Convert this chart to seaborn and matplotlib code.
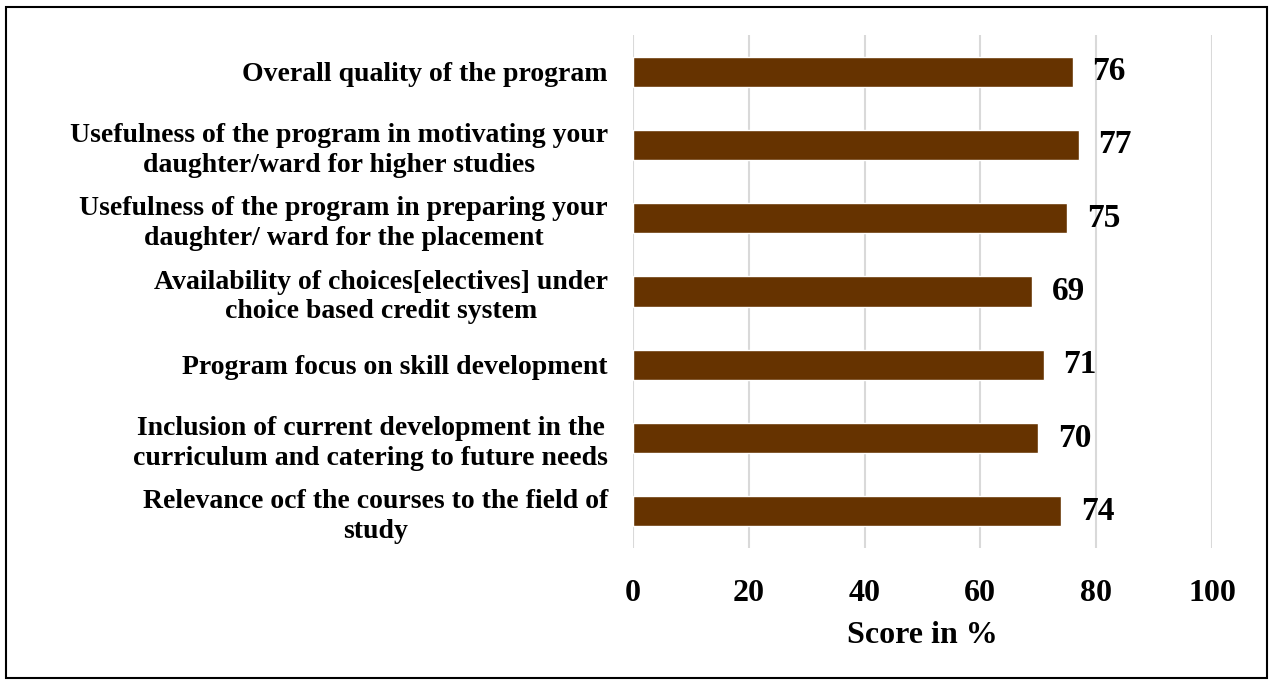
import matplotlib as mpl
mpl.use('Agg')

import matplotlib.pyplot as plt
import pandas as pd
import seaborn as sns
from matplotlib.patches import Rectangle

categories = ["Overall quality of the program",
              "Usefulness of the program in motivating your\ndaughter/ward for higher studies",
              "Usefulness of the program in preparing your\ndaughter/ ward for the placement",
              "Availability of choices[electives] under\nchoice based credit system",
              "Program focus on skill development",
              "Inclusion of current development in the\ncurriculum and catering to future needs",
              "Relevance ocf the courses to the field of\nstudy"]
scores = [76, 77, 75, 69, 71, 70, 74]
x_ticks = [0, 20, 40, 60, 80, 100]

bar_color = '#663300'

df = pd.DataFrame({'Category': categories, 'Score': scores})

sns.set_style("white")
plt.rcParams['font.family'] = ['Liberation Serif', 'DejaVu Serif']
plt.rcParams['font.weight'] = 'bold'
plt.rcParams['text.color'] = 'black'
plt.rcParams['xtick.color'] = 'black'
plt.rcParams['ytick.color'] = 'black'
plt.rcParams['axes.labelcolor'] = 'black'

fig = plt.figure(figsize=(12.7, 6.8), dpi=100)
ax = fig.add_axes([0.4984, 0.1941, 0.4559, 0.7544])

sns.barplot(data=df, x='Score', y='Category', orient='h', color=bar_color,
            width=0.41, saturation=1, ax=ax)

ax.set_xlim(0, 100)
ax.set_ylim(6.5, -0.5)
ax.set_xticks(x_ticks)
ax.xaxis.grid(True, color='#d9d9d9', linewidth=1.5)
ax.set_axisbelow(True)
for s in ax.spines.values():
    s.set_visible(False)

ax.tick_params(axis='x', length=0, pad=22, labelsize=23)
ax.tick_params(axis='y', length=0, pad=18, labelsize=20)
for lbl in ax.get_yticklabels():
    lbl.set_multialignment('center')
    lbl.set_fontweight('bold')
    lbl.set_linespacing(1.25)
for lbl in ax.get_xticklabels():
    lbl.set_fontweight('bold')

ax.set_ylabel('')
ax.set_xlabel('Score in %', fontsize=23, fontweight='bold', labelpad=10)

ax.bar_label(ax.containers[0], padding=14, fontsize=24, fontweight='bold')

fig.patches.append(Rectangle((0.005, 0.003), 0.993, 0.987, transform=fig.transFigure,
                             fill=False, edgecolor='black', linewidth=1.5))

plt.savefig('out.png', dpi=100)
plt.close()
